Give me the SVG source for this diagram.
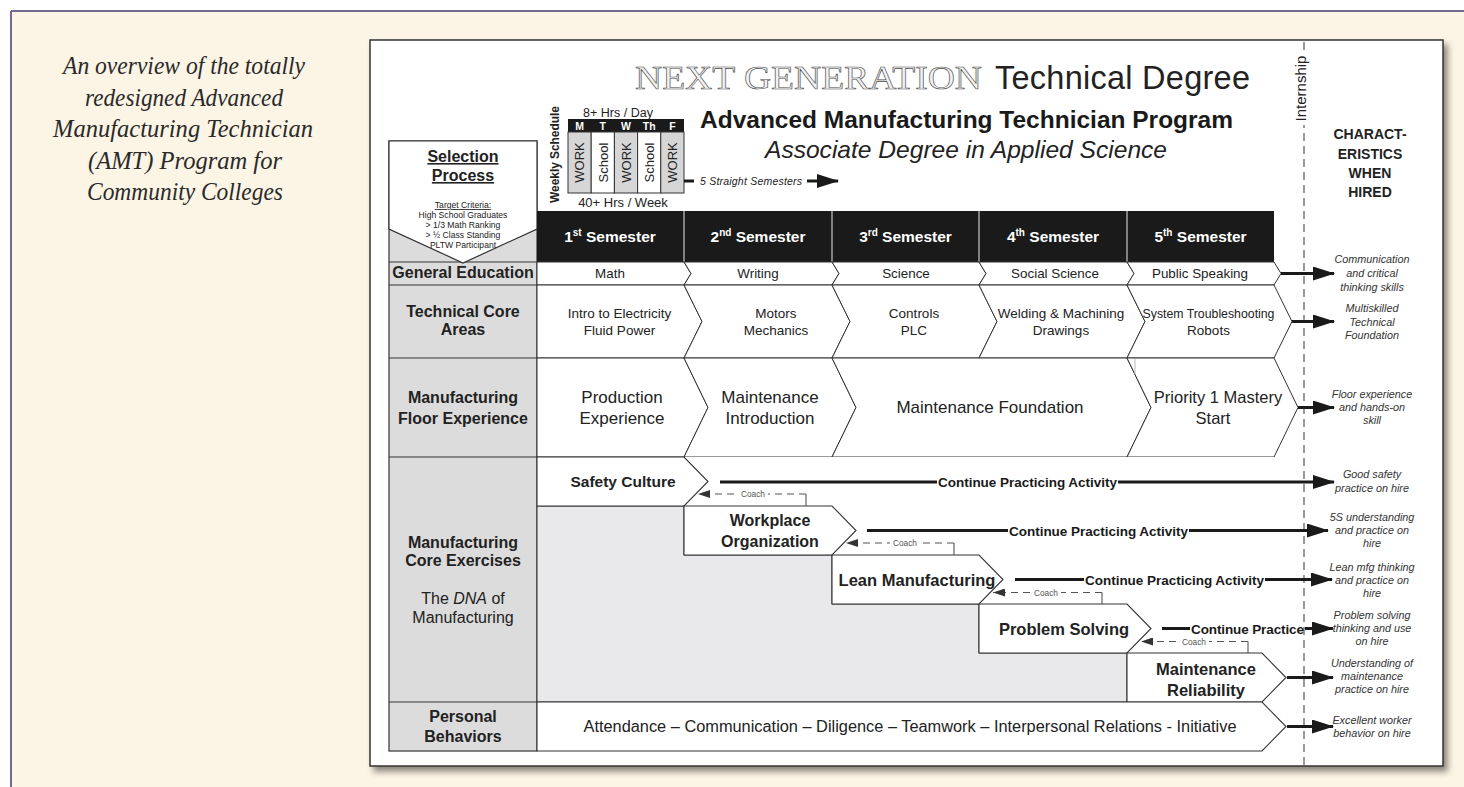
<svg xmlns="http://www.w3.org/2000/svg" width="1464" height="787" viewBox="0 0 1464 787">
  <defs>
    <style>
      .sans { font-family: "Liberation Sans", Arial, sans-serif; }
      .lbl { font-family: "Liberation Sans", Arial, sans-serif; font-weight: bold; font-size: 16px; fill: #222; text-anchor: middle; }
      .cell { fill: #fff; stroke: #333; stroke-width: 1; }
      .txt { font-family: "Liberation Sans", Arial, sans-serif; fill: #222; text-anchor: middle; }
      .box { fill: #fff; stroke: #333; stroke-width: 1.1; }
      .boxtxt { font-family: "Liberation Sans", Arial, sans-serif; font-weight: bold; fill: #222; text-anchor: middle; }
      .trait { font-family: "Liberation Sans", Arial, sans-serif; font-style: italic; font-size: 10.8px; fill: #333; text-anchor: middle; }
      .flow { stroke: #1a1a1a; stroke-width: 3; fill: none; }
      .cpa { font-family: "Liberation Sans", Arial, sans-serif; font-weight: bold; font-size: 13.5px; fill: #1a1a1a; text-anchor: middle; }
      .coach { stroke: #555; stroke-width: 1.1; stroke-dasharray: 7 5; fill: none; }
      .coachtxt { font-family: "Liberation Sans", Arial, sans-serif; font-size: 8.3px; fill: #555; text-anchor: middle; }
      .sem { font-family: "Liberation Sans", Arial, sans-serif; font-weight: bold; font-size: 15.5px; fill: #fff; text-anchor: middle; }
      .trait-h { font-family: "Liberation Sans", Arial, sans-serif; font-weight: bold; font-size: 14px; fill: #222; text-anchor: middle; }
    </style>
    <marker id="arrow" markerUnits="userSpaceOnUse" markerWidth="22" markerHeight="14" refX="21" refY="7" orient="auto">
      <path d="M0,0 L22,7 L0,14 z" fill="#1a1a1a"/>
    </marker>
    <marker id="coachArrow" markerUnits="userSpaceOnUse" markerWidth="12" markerHeight="8" refX="12" refY="4" orient="auto">
      <path d="M0,0 L12,4 L0,8 z" fill="#333"/>
    </marker>
    <filter id="shadow" x="-5%" y="-5%" width="115%" height="115%">
      <feDropShadow dx="4" dy="5" stdDeviation="3" flood-color="#000" flood-opacity="0.45"/>
    </filter>
  </defs>

  <!-- page background -->
  <rect x="0" y="0" width="1464" height="787" fill="#fff"/>
  <rect x="11" y="11" width="1453" height="776" fill="#fcf4e4"/>
  <line x1="11" y1="11" x2="1464" y2="11" stroke="#706c90" stroke-width="2"/>
  <line x1="11" y1="11" x2="11" y2="787" stroke="#706c90" stroke-width="2"/>

  <!-- caption -->
  <g id="caption" font-family="'Liberation Serif', 'Times New Roman', serif" font-style="italic" font-size="25px" fill="#2a2a2a" text-anchor="middle">
    <text x="184" y="74" textLength="242" lengthAdjust="spacingAndGlyphs">An overview of the totally</text>
    <text x="184" y="106" textLength="198" lengthAdjust="spacingAndGlyphs">redesigned Advanced</text>
    <text x="183" y="137" textLength="260" lengthAdjust="spacingAndGlyphs">Manufacturing Technician</text>
    <text x="185" y="169" textLength="194" lengthAdjust="spacingAndGlyphs">(AMT) Program for</text>
    <text x="185" y="200" textLength="196" lengthAdjust="spacingAndGlyphs">Community Colleges</text>
  </g>

  <!-- main panel -->
  <rect x="370" y="40" width="1073" height="726" fill="#fff" stroke="#333" stroke-width="1.5" filter="url(#shadow)"/>

  <!-- titles -->
  <g id="titles">
    <text x="635" y="89" font-family="'Liberation Serif', 'Times New Roman', serif" font-size="33px" fill="#f2f2f2" stroke="#4a4a4a" stroke-width="0.6" textLength="347" lengthAdjust="spacingAndGlyphs">NEXT GENERATION</text>
    <text x="995" y="89" class="sans" font-size="32.5px" fill="#222" textLength="255">Technical Degree</text>
    <text x="966.5" y="128" class="sans" font-weight="bold" font-size="23px" fill="#1a1a1a" text-anchor="middle" textLength="533" lengthAdjust="spacingAndGlyphs">Advanced Manufacturing Technician Program</text>
    <text x="966" y="158" class="sans" font-style="italic" font-size="24px" fill="#222" text-anchor="middle" textLength="402" lengthAdjust="spacingAndGlyphs">Associate Degree in Applied Science</text>
  </g>

  <!-- weekly schedule -->
  <g id="weekly-schedule">
    <text transform="translate(559,154.5) rotate(-90)" class="sans" font-weight="bold" font-size="12px" fill="#222" text-anchor="middle" textLength="97">Weekly Schedule</text>
    <text x="618" y="117" class="txt" font-size="12.5px">8+ Hrs / Day</text>
    <rect x="568" y="119" width="116" height="13" fill="#1a1a1a"/>
    <g class="sans" font-weight="bold" font-size="10.5px" fill="#fff" text-anchor="middle">
      <text x="579.6" y="129.5">M</text>
      <text x="602.8" y="129.5">T</text>
      <text x="626" y="129.5">W</text>
      <text x="649.2" y="129.5">Th</text>
      <text x="672.4" y="129.5">F</text>
    </g>
    <rect x="568" y="132" width="23.2" height="61" fill="#d6d6d6" stroke="#333" stroke-width="1"/>
    <rect x="591.2" y="132" width="23.2" height="61" fill="#fff" stroke="#333" stroke-width="1"/>
    <rect x="614.4" y="132" width="23.2" height="61" fill="#d6d6d6" stroke="#333" stroke-width="1"/>
    <rect x="637.6" y="132" width="23.2" height="61" fill="#fff" stroke="#333" stroke-width="1"/>
    <rect x="660.8" y="132" width="23.2" height="61" fill="#d6d6d6" stroke="#333" stroke-width="1"/>
    <g class="sans" font-size="13px" fill="#222" text-anchor="middle">
      <text transform="translate(584.3,162.5) rotate(-90)">WORK</text>
      <text transform="translate(607.5,162.5) rotate(-90)">School</text>
      <text transform="translate(630.7,162.5) rotate(-90)">WORK</text>
      <text transform="translate(653.9,162.5) rotate(-90)">School</text>
      <text transform="translate(677.1,162.5) rotate(-90)">WORK</text>
    </g>
    <text x="623" y="207" class="txt" font-size="13px">40+ Hrs / Week</text>
    <line x1="684" y1="181" x2="694" y2="181" class="flow"/>
    <text x="751" y="185" class="txt" font-style="italic" font-size="10.5px" textLength="102">5 Straight Semesters</text>
    <line x1="807" y1="181" x2="838" y2="181" class="flow" marker-end="url(#arrow)"/>
  </g>

  <!-- left label column -->
  <g id="row-labels">
    <rect x="389" y="141" width="148" height="610" fill="#dcdcdc" stroke="#333" stroke-width="1.2"/>
    <line x1="389" y1="262" x2="537" y2="262" stroke="#333"/>
    <line x1="389" y1="285" x2="537" y2="285" stroke="#333"/>
    <line x1="389" y1="358" x2="537" y2="358" stroke="#333"/>
    <line x1="389" y1="457" x2="537" y2="457" stroke="#333"/>
    <line x1="389" y1="702" x2="537" y2="702" stroke="#333"/>
    <text x="463" y="278" class="lbl" font-size="13px">General Education</text>
    <text x="463" y="317" class="lbl">Technical Core</text>
    <text x="463" y="335" class="lbl">Areas</text>
    <text x="463" y="403" class="lbl">Manufacturing</text>
    <text x="463" y="424" class="lbl">Floor Experience</text>
    <text x="463" y="548" class="lbl">Manufacturing</text>
    <text x="463" y="566" class="lbl">Core Exercises</text>
    <text x="463" y="604" class="txt" font-size="16px">The <tspan font-style="italic">DNA</tspan> of</text>
    <text x="463" y="623" class="txt" font-size="16px">Manufacturing</text>
    <text x="463" y="722" class="lbl">Personal</text>
    <text x="463" y="742" class="lbl">Behaviors</text>
  </g>

  <!-- selection process -->
  <g id="selection-process">
    <polygon points="389,141 537,141 537,229 463,263 389,229" fill="#fff" stroke="#333" stroke-width="1.2"/>
    <text x="463" y="162" class="lbl" text-decoration="underline">Selection</text>
    <text x="463" y="181" class="lbl" text-decoration="underline">Process</text>
    <g class="txt" font-size="8.6px" fill="#333">
      <text x="463" y="208" text-decoration="underline">Target Criteria:</text>
      <text x="463" y="218">High School Graduates</text>
      <text x="463" y="228">&gt; 1/3 Math Ranking</text>
      <text x="463" y="238">&gt; ½ Class Standing</text>
      <text x="463" y="248">PLTW Participant</text>
    </g>
  </g>

  <!-- semester header -->
  <g id="semesters">
    <rect x="537" y="211" width="737" height="51" fill="#1a1a1a"/>
    <g stroke="#c8c8c8" stroke-width="1.2">
      <line x1="684" y1="211" x2="684" y2="262"/>
      <line x1="832" y1="211" x2="832" y2="262"/>
      <line x1="979" y1="211" x2="979" y2="262"/>
      <line x1="1127" y1="211" x2="1127" y2="262"/>
    </g>
    <text x="610" y="242" class="sem">1<tspan font-size="10px" dy="-6">st</tspan><tspan dy="6"> Semester</tspan></text>
    <text x="758" y="242" class="sem">2<tspan font-size="10px" dy="-6">nd</tspan><tspan dy="6"> Semester</tspan></text>
    <text x="905.5" y="242" class="sem">3<tspan font-size="10px" dy="-6">rd</tspan><tspan dy="6"> Semester</tspan></text>
    <text x="1053" y="242" class="sem">4<tspan font-size="10px" dy="-6">th</tspan><tspan dy="6"> Semester</tspan></text>
    <text x="1200.5" y="242" class="sem">5<tspan font-size="10px" dy="-6">th</tspan><tspan dy="6"> Semester</tspan></text>
  </g>

  <!-- general education row -->
  <g id="general-education">
    <polygon class="cell" points="537,262 684,262 691,273.5 684,285 537,285"/>
    <polygon class="cell" points="684,262 832,262 839,273.5 832,285 684,285 691,273.5"/>
    <polygon class="cell" points="832,262 979,262 986,273.5 979,285 832,285 839,273.5"/>
    <polygon class="cell" points="979,262 1127,262 1134,273.5 1127,285 979,285 986,273.5"/>
    <polygon class="cell" points="1127,262 1274,262 1281,273.5 1274,285 1127,285 1134,273.5"/>
    <g class="txt" font-size="13.4px">
      <text x="610" y="278">Math</text>
      <text x="758" y="278">Writing</text>
      <text x="906" y="278">Science</text>
      <text x="1055" y="278">Social Science</text>
      <text x="1200" y="278">Public Speaking</text>
    </g>
  </g>

  <!-- technical core row -->
  <g id="technical-core">
    <polygon class="cell" points="537,285 684,285 702,321.5 684,358 537,358"/>
    <polygon class="cell" points="684,285 832,285 850,321.5 832,358 684,358 702,321.5"/>
    <polygon class="cell" points="832,285 979,285 997,321.5 979,358 832,358 850,321.5"/>
    <polygon class="cell" points="979,285 1127,285 1145,321.5 1127,358 979,358 997,321.5"/>
    <polygon class="cell" points="1127,285 1274,285 1292,321.5 1274,358 1127,358 1145,321.5"/>
    <g class="txt" font-size="13.5px">
      <text x="619.5" y="318">Intro to Electricity</text>
      <text x="619.5" y="335">Fluid Power</text>
      <text x="776" y="318">Motors</text>
      <text x="776" y="335">Mechanics</text>
      <text x="914" y="318">Controls</text>
      <text x="914" y="335">PLC</text>
      <text x="1061" y="318">Welding &amp; Machining</text>
      <text x="1061" y="335">Drawings</text>
      <text x="1208.5" y="318" font-size="12.3px">System Troubleshooting</text>
      <text x="1208.5" y="335">Robots</text>
    </g>
  </g>

  <!-- manufacturing floor row -->
  <g id="floor-experience">
    <polygon class="cell" points="537,358 684,358 708,407.5 684,457 537,457"/>
    <polygon class="cell" points="684,358 832,358 856,407.5 832,457 684,457 708,407.5"/>
    <polygon class="cell" points="832,358 1127,358 1151,407.5 1127,457 832,457 856,407.5"/>
    <polygon class="cell" points="1127,358 1274,358 1298,407.5 1274,457 1127,457 1151,407.5"/>
    <line x1="1135" y1="359" x2="1135" y2="374" stroke="#bbb" stroke-width="1"/>
    <g class="txt" font-size="17px">
      <text x="622" y="403">Production</text>
      <text x="622" y="424">Experience</text>
      <text x="770" y="403">Maintenance</text>
      <text x="770" y="424">Introduction</text>
      <text x="990" y="413">Maintenance Foundation</text>
      <text x="1218" y="403" font-size="16.5px">Priority 1 Mastery</text>
      <text x="1213" y="424" font-size="16.5px">Start</text>
    </g>
  </g>

  <!-- core exercises row -->
  <g id="core-exercises-area">
    <rect x="537" y="457" width="737" height="245" fill="#fff"/>
    <polygon points="537,506 684,506 684,555 832,555 832,604 979,604 979,653 1127,653 1127,702 537,702" fill="#e9e9eb" stroke="#333" stroke-width="1"/>
  </g>

  <g id="safety-culture">
    <polygon class="box" points="537,457 684,457 708,481.5 684,506 537,506"/>
    <text x="623" y="487" class="boxtxt" font-size="15.5px">Safety Culture</text>
  </g>
  <g id="workplace-organization">
    <polygon class="box" points="684,506 832,506 856,530.5 832,555 684,555"/>
    <text x="770" y="526" class="boxtxt" font-size="16px">Workplace</text>
    <text x="770" y="547" class="boxtxt" font-size="16px">Organization</text>
  </g>
  <g id="lean-manufacturing">
    <polygon class="box" points="832,555 979,555 1003,579.5 979,604 832,604"/>
    <text x="917" y="585.5" class="boxtxt" font-size="16.5px">Lean Manufacturing</text>
  </g>
  <g id="problem-solving">
    <polygon class="box" points="979,604 1127,604 1151,628.5 1127,653 979,653"/>
    <text x="1064" y="634.5" class="boxtxt" font-size="16.5px">Problem Solving</text>
  </g>
  <g id="maintenance-reliability">
    <polygon class="box" points="1127,653 1262,653 1286,677.5 1262,702 1127,702"/>
    <text x="1206" y="675" class="boxtxt" font-size="16.5px">Maintenance</text>
    <text x="1206" y="696" class="boxtxt" font-size="16.5px">Reliability</text>
  </g>
  <g id="personal-behaviors">
    <polygon class="box" points="537,702 1262,702 1286,726.5 1262,751 537,751"/>
    <text x="910" y="732" class="txt" font-size="16px" textLength="653" lengthAdjust="spacingAndGlyphs">Attendance – Communication – Diligence – Teamwork – Interpersonal Relations - Initiative</text>
  </g>

  <!-- internship boundary -->
  <g id="internship">
    <line x1="1304" y1="42" x2="1304" y2="765" stroke="#555" stroke-width="1.2" stroke-dasharray="8 5"/>
    <rect x="1294" y="52" width="17" height="73" fill="#fff"/>
    <text transform="translate(1306,88.5) rotate(-90)" class="sans" font-size="15px" fill="#222" text-anchor="middle">Internship</text>
  </g>

  <!-- connectors -->
  <g id="connectors">
    <line class="flow" x1="1281" y1="273.5" x2="1334" y2="273.5" marker-end="url(#arrow)"/>
    <line class="flow" x1="1292" y1="321.5" x2="1334" y2="321.5" marker-end="url(#arrow)"/>
    <line class="flow" x1="1298" y1="407.5" x2="1334" y2="407.5" marker-end="url(#arrow)"/>

    <line class="flow" x1="720" y1="482" x2="937" y2="482"/>
    <line class="flow" x1="1118" y1="482" x2="1334" y2="482" marker-end="url(#arrow)"/>
    <text x="1027.5" y="487" class="cpa" textLength="179">Continue Practicing Activity</text>

    <line class="flow" x1="867" y1="530.5" x2="1008" y2="530.5"/>
    <line class="flow" x1="1189" y1="530.5" x2="1328" y2="530.5" marker-end="url(#arrow)"/>
    <text x="1098.5" y="535.5" class="cpa" textLength="179">Continue Practicing Activity</text>

    <line class="flow" x1="1015" y1="579.5" x2="1084" y2="579.5"/>
    <line class="flow" x1="1265" y1="579.5" x2="1332" y2="579.5" marker-end="url(#arrow)"/>
    <text x="1174.5" y="584.5" class="cpa" textLength="179">Continue Practicing Activity</text>

    <line class="flow" x1="1162" y1="628.5" x2="1190" y2="628.5"/>
    <line class="flow" x1="1305" y1="628.5" x2="1333" y2="628.5" marker-end="url(#arrow)"/>
    <text x="1247.5" y="633.5" class="cpa" textLength="113">Continue Practice</text>

    <line class="flow" x1="1287" y1="677.5" x2="1333" y2="677.5" marker-end="url(#arrow)"/>
    <line class="flow" x1="1287" y1="726.5" x2="1333" y2="726.5" marker-end="url(#arrow)"/>

    <!-- coaching feedback -->
    <line x1="806" y1="506" x2="806" y2="494" stroke="#555" stroke-width="1.1"/>
    <line class="coach" x1="806" y1="494" x2="698" y2="494" marker-end="url(#coachArrow)"/>
    <rect x="738" y="489" width="30" height="10" fill="#fff"/>
    <text x="753" y="497" class="coachtxt">Coach</text>

    <line x1="954" y1="555" x2="954" y2="543" stroke="#555" stroke-width="1.1"/>
    <line class="coach" x1="954" y1="543" x2="846" y2="543" marker-end="url(#coachArrow)"/>
    <rect x="890" y="538" width="30" height="10" fill="#fff"/>
    <text x="905" y="546" class="coachtxt">Coach</text>

    <line x1="1102" y1="604" x2="1102" y2="592.5" stroke="#555" stroke-width="1.1"/>
    <line class="coach" x1="1102" y1="592.5" x2="993" y2="592.5" marker-end="url(#coachArrow)"/>
    <rect x="1031" y="587.5" width="30" height="10" fill="#fff"/>
    <text x="1046" y="595.5" class="coachtxt">Coach</text>

    <line x1="1248" y1="653" x2="1248" y2="641.5" stroke="#555" stroke-width="1.1"/>
    <line class="coach" x1="1248" y1="641.5" x2="1141" y2="641.5" marker-end="url(#coachArrow)"/>
    <rect x="1179" y="636.5" width="30" height="10" fill="#fff"/>
    <text x="1194" y="644.5" class="coachtxt">Coach</text>
  </g>

  <!-- characteristics when hired -->
  <g id="characteristics">
    <text x="1370" y="139" class="trait-h">CHARACT-</text>
    <text x="1370" y="159" class="trait-h">ERISTICS</text>
    <text x="1370" y="178" class="trait-h">WHEN</text>
    <text x="1370" y="197" class="trait-h">HIRED</text>

    <text x="1372" y="263" class="trait">Communication</text>
    <text x="1372" y="277" class="trait">and critical</text>
    <text x="1372" y="291" class="trait">thinking skills</text>

    <text x="1372" y="312" class="trait">Multiskilled</text>
    <text x="1372" y="326" class="trait">Technical</text>
    <text x="1372" y="339" class="trait">Foundation</text>

    <text x="1372" y="398" class="trait">Floor experience</text>
    <text x="1372" y="411" class="trait">and hands-on</text>
    <text x="1372" y="424" class="trait">skill</text>

    <text x="1372" y="478" class="trait">Good safety</text>
    <text x="1372" y="492" class="trait">practice on hire</text>

    <text x="1372" y="521" class="trait">5S understanding</text>
    <text x="1372" y="534" class="trait">and practice on</text>
    <text x="1372" y="547" class="trait">hire</text>

    <text x="1372" y="571" class="trait">Lean mfg thinking</text>
    <text x="1372" y="584" class="trait">and practice on</text>
    <text x="1372" y="597" class="trait">hire</text>

    <text x="1372" y="619" class="trait">Problem solving</text>
    <text x="1372" y="632" class="trait">thinking and use</text>
    <text x="1372" y="645" class="trait">on hire</text>

    <text x="1372" y="667" class="trait">Understanding of</text>
    <text x="1372" y="680" class="trait">maintenance</text>
    <text x="1372" y="693" class="trait">practice on hire</text>

    <text x="1372" y="724" class="trait">Excellent worker</text>
    <text x="1372" y="737" class="trait">behavior on hire</text>
  </g>
</svg>
